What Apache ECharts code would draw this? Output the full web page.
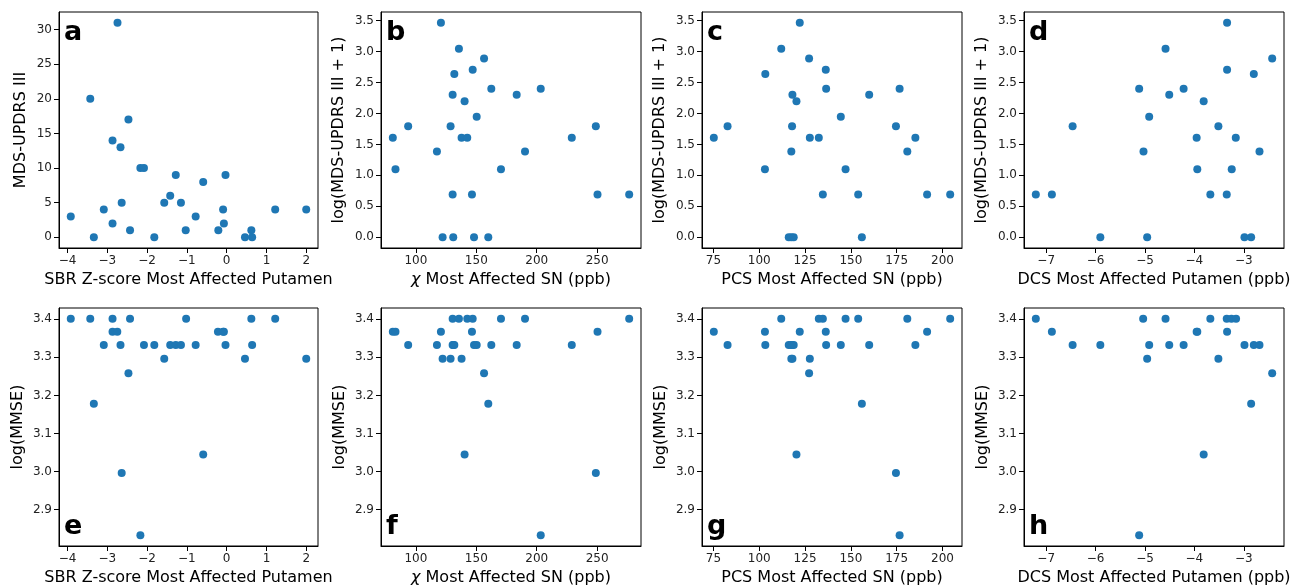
<!DOCTYPE html>
<html>
<head>
<meta charset="utf-8">
<title>Clinical scores vs imaging measures</title>
<script src="https://cdn.jsdelivr.net/npm/echarts@6.0.0/dist/echarts.min.js"></script>
<style>
  html, body { margin: 0; padding: 0; background: #fff; }
  #chart { width: 1314px; height: 587px; }
</style>
</head>
<body>
<div id="chart"></div>
<script>
// tick values
const sbrTicks = [-4, -3, -2, -1, 0, 1, 2]
const chiTicks = [100, 150, 200, 250]
const pcsTicks = [75, 100, 125, 150, 175, 200]
const dcsTicks = [-7, -6, -5, -4, -3]
const mdsTicks = [0, 5, 10, 15, 20, 25, 30]
const logMdsTicks = [0, 0.5, 1.0, 1.5, 2.0, 2.5, 3.0, 3.5]
const logMmseTicks = [2.9, 3.0, 3.1, 3.2, 3.3, 3.4]

// axis names
const sbrName = 'SBR Z-score Most Affected Putamen'
const chiName = '{i|χ} Most Affected SN (ppb)'
const pcsName = 'PCS Most Affected SN (ppb)'
const dcsName = 'DCS Most Affected Putamen (ppb)'

// top row: motor score
const aX = [-2.745, -3.43, -2.47, -2.87, -2.67, -2.17, -2.08, -1.28, -0.03, -0.59, -1.42, -2.64, -1.57, -1.15, -3.92,
  -0.78, -3.09, -0.09, 1.22, 2.0, -2.87, -0.07, -2.43, -1.03, -0.21, 0.62, -3.34, -1.82, 0.46, 0.64]
const aY = [31, 20, 17, 14, 13, 10, 10, 9, 9, 8, 6, 5, 5, 5, 3, 3, 4, 4, 4, 4, 2, 2, 1, 1, 1, 1, 0, 0, 0, 0]

const logMdsY = [3.466, 3.045, 2.890, 2.708, 2.639, 2.398, 2.398, 2.303, 2.303, 2.197, 1.946, 1.792, 1.792, 1.792,
  1.609, 1.609, 1.609, 1.609, 1.386, 1.386, 1.099, 1.099, 0.693, 0.693, 0.693, 0.693, 0, 0, 0, 0]

const bX = [120.7, 135.6, 156.4, 147.0, 131.8, 162.4, 203.3, 130.4, 183.4, 140.3, 150.3, 93.6, 128.7, 248.9, 80.9,
  137.8, 142.5, 229.0, 117.4, 190.3, 83.1, 170.4, 130.4, 146.4, 250.3, 276.5, 122.1, 130.9, 148.1, 159.9]
const bY = logMdsY

const cX = [122.1, 112.0, 127.2, 136.3, 103.3, 136.5, 176.6, 118.1, 160.0, 120.3, 144.5, 82.7, 117.9, 174.6, 75.2,
  127.6, 132.5, 185.2, 117.5, 180.8, 103.1, 147.1, 134.7, 154.0, 191.6, 204.2, 116.1, 117.5, 118.8, 156.0]
const cY = logMdsY

const dX = [-3.338, -4.584, -2.425, -3.338, -2.797, -5.118, -4.218, -4.509, -3.812, -4.915, -6.465, -3.514, -3.954,
  -3.162, -5.03, -2.682, -3.941, -3.244, -7.21, -6.885, -3.677, -3.345, -5.904, -4.956, -2.986, -2.851]
const dY = [3.466, 3.045, 2.890, 2.708, 2.639, 2.398, 2.398, 2.303, 2.197, 1.946, 1.792, 1.792, 1.609, 1.609,
  1.386, 1.386, 1.099, 1.099, 0.693, 0.693, 0.693, 0.693, 0, 0, 0, 0]

// bottom row: log(MMSE)
const logMmseY = [3.401, 3.401, 3.401, 3.401, 3.401, 3.401, 3.401,
  3.367, 3.367, 3.367, 3.367, 3.367,
  3.332, 3.332, 3.332, 3.332, 3.332, 3.332, 3.332, 3.332, 3.332, 3.332,
  3.296, 3.296, 3.296, 3.258, 3.178, 3.045, 2.996, 2.833]

const eX = [-3.92, -3.43, -2.87, -2.43, -1.02, 0.62, 1.22,
  -2.87, -2.75, -0.22, -0.07, -0.09,
  -3.09, -2.67, -2.08, -1.82, -1.42, -1.28, -1.15, -0.78, -0.03, 0.64,
  -1.57, 0.46, 2.0, -2.47, -3.34, -0.59, -2.64, -2.17]
const eY = logMmseY

const fX = [130.4, 135.6, 142.5, 147.0, 170.4, 190.3, 276.5,
  80.9, 83.1, 120.7, 146.4, 250.3,
  93.6, 117.4, 130.4, 130.9, 131.8, 148.1, 150.3, 162.4, 183.4, 229.0,
  122.1, 128.7, 137.8, 156.4, 159.9, 140.3, 248.9, 203.3]
const fY = logMmseY

const gX = [112.0, 132.5, 134.7, 147.1, 154.0, 180.8, 204.2,
  75.2, 103.1, 122.1, 136.3, 191.6,
  82.7, 103.3, 116.1, 117.5, 117.9, 118.8, 136.5, 144.5, 160.0, 185.2,
  117.5, 118.1, 127.6, 127.2, 156.0, 120.3, 174.6, 176.6]
const gY = logMmseY

const hX = [-7.21, -5.037, -4.584, -3.677, -3.345, -3.25, -3.156,
  -6.885, -3.954, -3.941, -3.338,
  -6.465, -5.904, -4.915, -4.509, -4.218, -2.986, -2.797, -2.682,
  -4.956, -3.514, -2.425, -2.851, -3.812, -5.118]
const hY = [3.401, 3.401, 3.401, 3.401, 3.401, 3.401, 3.401,
  3.367, 3.367, 3.367, 3.367,
  3.332, 3.332, 3.332, 3.332, 3.332, 3.332, 3.332, 3.332,
  3.296, 3.296, 3.258, 3.178, 3.045, 2.833]

const panels = [
  { letter: 'a', x: aX, y: aY, xTicks: sbrTicks, yTicks: mdsTicks, xName: sbrName, yName: 'MDS-UPDRS III', yDigits: 0, yGap: 30 },
  { letter: 'b', x: bX, y: bY, xTicks: chiTicks, yTicks: logMdsTicks, xName: chiName, yName: 'log(MDS-UPDRS III + 1)', yDigits: 1, yGap: 34 },
  { letter: 'c', x: cX, y: cY, xTicks: pcsTicks, yTicks: logMdsTicks, xName: pcsName, yName: 'log(MDS-UPDRS III + 1)', yDigits: 1, yGap: 34 },
  { letter: 'd', x: dX, y: dY, xTicks: dcsTicks, yTicks: logMdsTicks, xName: dcsName, yName: 'log(MDS-UPDRS III + 1)', yDigits: 1, yGap: 34 },
  { letter: 'e', x: eX, y: eY, xTicks: sbrTicks, yTicks: logMmseTicks, xName: sbrName, yName: 'log(MMSE)', yDigits: 1, yGap: 33 },
  { letter: 'f', x: fX, y: fY, xTicks: chiTicks, yTicks: logMmseTicks, xName: chiName, yName: 'log(MMSE)', yDigits: 1, yGap: 33 },
  { letter: 'g', x: gX, y: gY, xTicks: pcsTicks, yTicks: logMmseTicks, xName: pcsName, yName: 'log(MMSE)', yDigits: 1, yGap: 33 },
  { letter: 'h', x: hX, y: hY, xTicks: dcsTicks, yTicks: logMmseTicks, xName: dcsName, yName: 'log(MMSE)', yDigits: 1, yGap: 33 }
]

const FONT = '"DejaVu Sans", sans-serif'
const BLUE = '#1f77b4'
const colLeft = [59, 381, 702, 1024]
const colWidth = [259, 260, 260, 260]
const rowTop = [12, 308]
const rowHeight = [236, 238]

// matplotlib-style 5% margins
function limits(arr) {
  const lo = Math.min(...arr)
  const hi = Math.max(...arr)
  const pad = (hi - lo) * 0.05
  return { min: lo - pad, max: hi + pad }
}

function fmt(v, digits) {
  const s = v.toFixed(digits)
  return s.charAt(0) === '-' ? '\u2212' + s.slice(1) : s
}

const grids = []
const xAxes = []
const yAxes = []
const series = []
const graphics = []

panels.forEach((p, i) => {
  const col = i % 4
  const row = Math.floor(i / 4)
  grids.push({
    left: colLeft[col],
    top: rowTop[row],
    width: colWidth[col],
    height: rowHeight[row],
    show: true,
    borderColor: '#000',
    borderWidth: 1,
    backgroundColor: 'transparent'
  })
  const xl = limits(p.x)
  const yl = limits(p.y)
  xAxes.push({
    type: 'value',
    gridIndex: i,
    min: xl.min,
    max: xl.max,
    name: p.xName,
    nameLocation: 'middle',
    nameGap: 24,
    nameTextStyle: {
      color: '#000',
      fontFamily: FONT,
      fontSize: 16,
      rich: { i: { fontStyle: 'italic', fontFamily: FONT, fontSize: 16, color: '#000' } }
    },
    axisLine: { show: true, onZero: false, lineStyle: { color: '#000', width: 1 } },
    axisTick: { show: true, length: 5, customValues: p.xTicks, lineStyle: { color: '#000' } },
    axisLabel: {
      customValues: p.xTicks,
      margin: 7,
      color: '#222',
      fontFamily: FONT,
      fontSize: 12,
      formatter: v => fmt(v, 0)
    },
    splitLine: { show: false }
  })
  yAxes.push({
    type: 'value',
    gridIndex: i,
    min: yl.min,
    max: yl.max,
    name: p.yName,
    nameLocation: 'middle',
    nameGap: p.yGap,
    nameTextStyle: { color: '#000', fontFamily: FONT, fontSize: 16 },
    axisLine: { show: true, onZero: false, lineStyle: { color: '#000', width: 1 } },
    axisTick: { show: true, length: 5, customValues: p.yTicks, lineStyle: { color: '#000' } },
    axisLabel: {
      customValues: p.yTicks,
      margin: 7,
      color: '#222',
      fontFamily: FONT,
      fontSize: 12,
      formatter: v => fmt(v, p.yDigits)
    },
    splitLine: { show: false }
  })
  series.push({
    type: 'scatter',
    xAxisIndex: i,
    yAxisIndex: i,
    symbolSize: 8,
    itemStyle: { color: BLUE, opacity: 1 },
    data: p.x.map((v, k) => [v, p.y[k]])
  })
  // panel letter: top-left on the first row, bottom-left on the second
  graphics.push({
    type: 'text',
    x: colLeft[col] + 5,
    y: row === 0 ? rowTop[row] + 20.5 : rowTop[row] + rowHeight[row] - 18.8,
    style: {
      text: p.letter,
      font: 'bold 27px "DejaVu Sans"',
      fill: '#000',
      align: 'left',
      verticalAlign: 'middle'
    },
    z: 10
  })
})

const chart = echarts.init(document.getElementById('chart'))
chart.setOption({
  animation: false,
  backgroundColor: '#fff',
  textStyle: { fontFamily: FONT },
  grid: grids,
  xAxis: xAxes,
  yAxis: yAxes,
  series: series,
  graphic: graphics
})
window.addEventListener('resize', () => chart.resize())
</script>
</body>
</html>
